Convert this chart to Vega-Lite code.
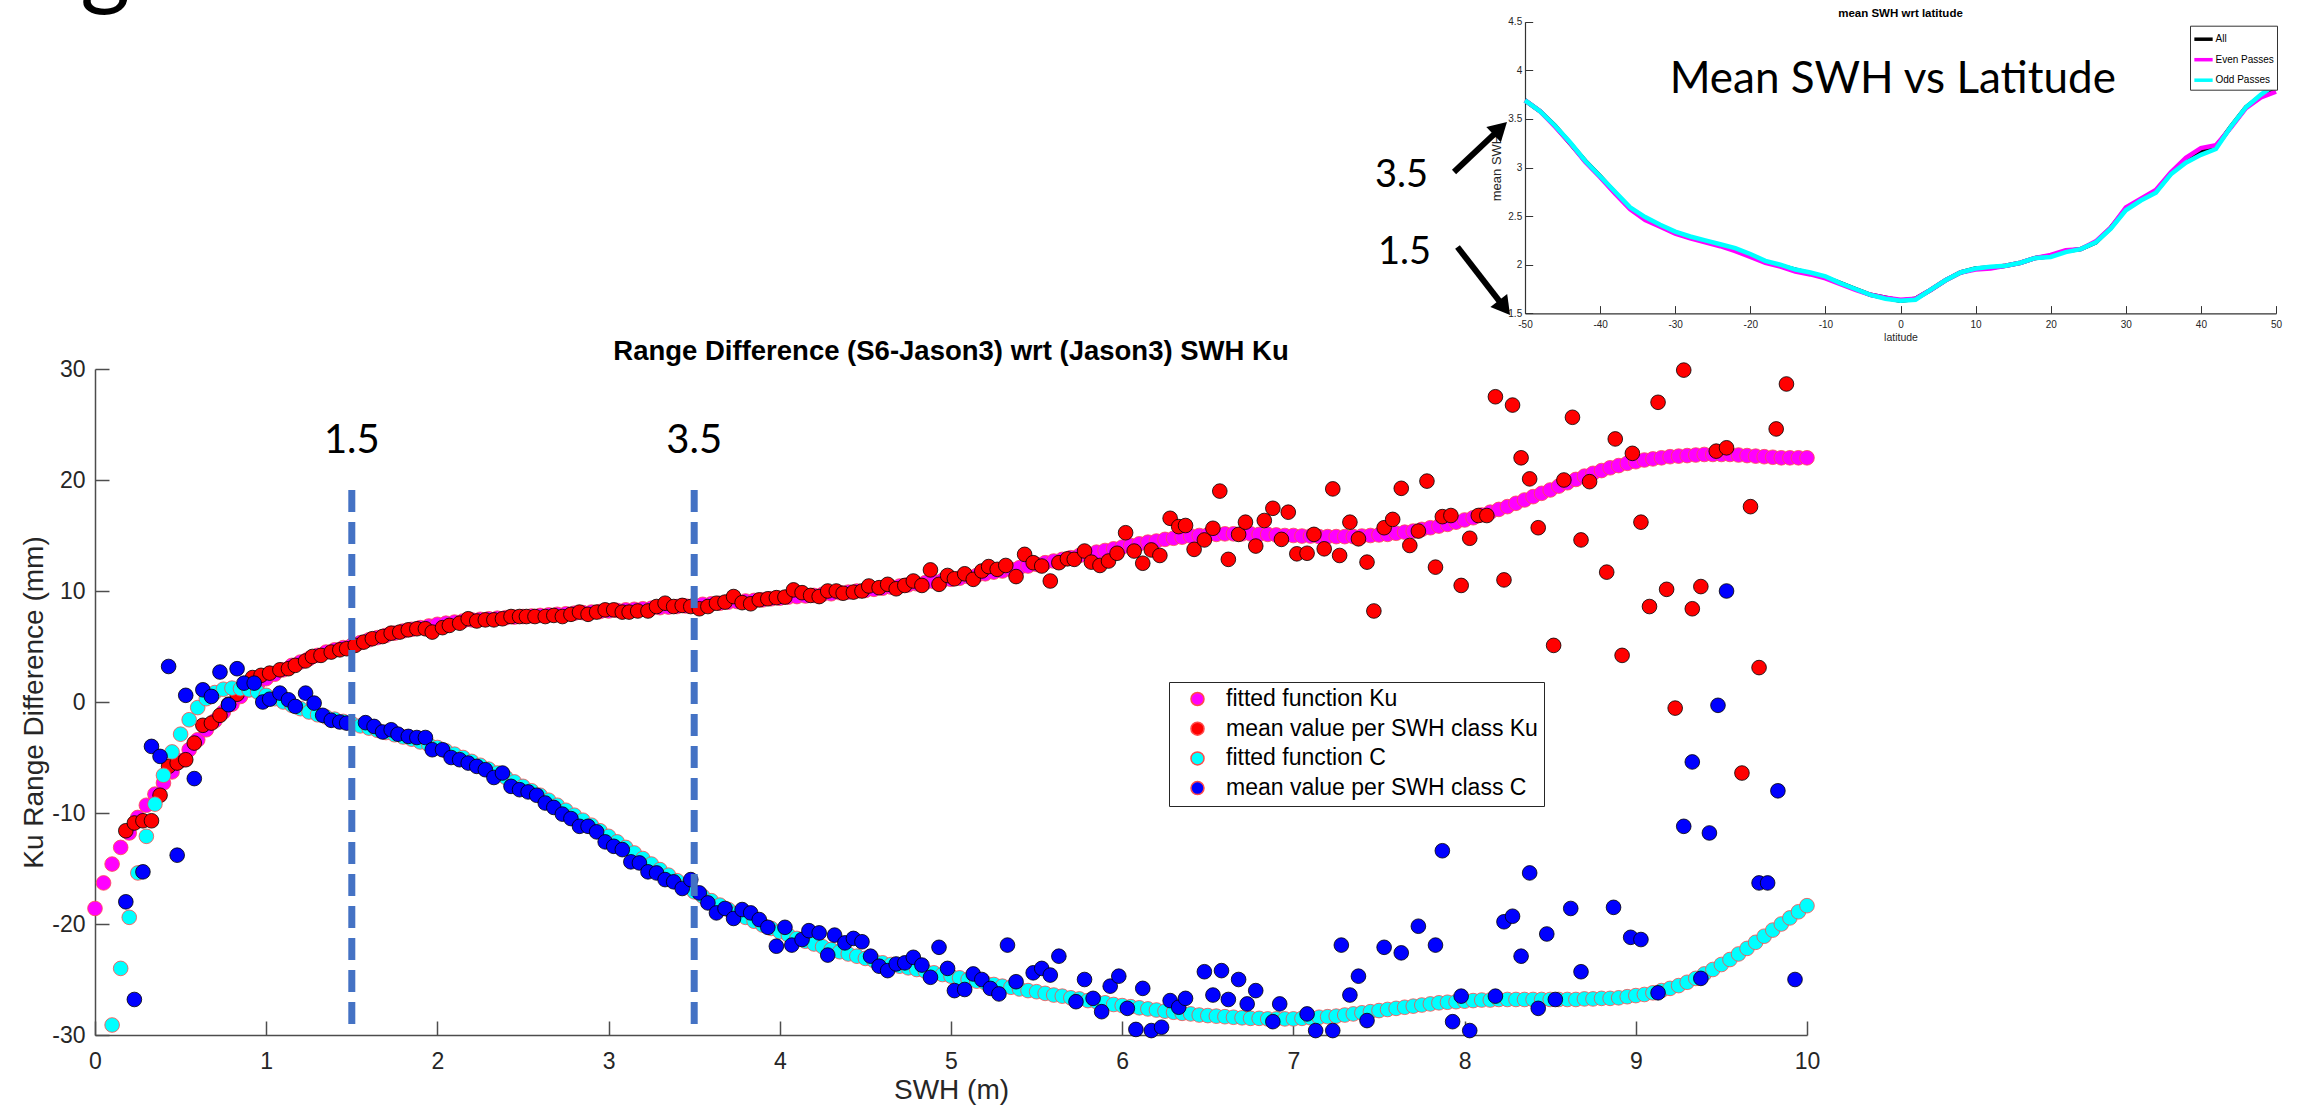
{
  "$schema": "https://vega.github.io/schema/vega-lite/v6.json",
  "width": 1712,
  "height": 666,
  "autosize": "none",
  "padding": {"left": 95, "top": 369, "right": 498, "bottom": 73},
  "background": "white",
  "config": {"view": {"stroke": null}, "font": "Liberation Sans"},
  "datasets": {
    "fku": [
      {"x":0,"y":-18.6},{"x":0.05,"y":-16.3},{"x":0.1,"y":-14.6},{"x":0.15,"y":-13.1},{"x":0.2,"y":-11.8},{"x":0.25,"y":-10.4},{"x":0.3,"y":-9.3},{"x":0.35,"y":-8.3},{"x":0.4,"y":-7.3},{"x":0.45,"y":-6.3},
      {"x":0.5,"y":-5.3},{"x":0.55,"y":-4.3},{"x":0.6,"y":-3.4},{"x":0.65,"y":-2.5},{"x":0.7,"y":-1.7},{"x":0.75,"y":-0.9},{"x":0.8,"y":-0.2},{"x":0.85,"y":0.5},{"x":0.9,"y":1.1},{"x":0.95,"y":1.6},
      {"x":1,"y":2.1},{"x":1.05,"y":2.5},{"x":1.1,"y":2.9},{"x":1.15,"y":3.3},{"x":1.2,"y":3.6},{"x":1.25,"y":3.9},{"x":1.3,"y":4.2},{"x":1.35,"y":4.5},{"x":1.4,"y":4.7},{"x":1.45,"y":4.9},
      {"x":1.5,"y":5.1},{"x":1.55,"y":5.35},{"x":1.6,"y":5.6},{"x":1.65,"y":5.8},{"x":1.7,"y":6},{"x":1.75,"y":6.2},{"x":1.8,"y":6.4},{"x":1.85,"y":6.55},{"x":1.9,"y":6.7},{"x":1.95,"y":6.85},
      {"x":2,"y":7},{"x":2.05,"y":7.1},{"x":2.1,"y":7.2},{"x":2.15,"y":7.3},{"x":2.2,"y":7.4},{"x":2.25,"y":7.45},{"x":2.3,"y":7.5},{"x":2.35,"y":7.55},{"x":2.4,"y":7.6},{"x":2.45,"y":7.65},
      {"x":2.5,"y":7.7},{"x":2.55,"y":7.75},{"x":2.6,"y":7.8},{"x":2.65,"y":7.85},{"x":2.7,"y":7.9},{"x":2.75,"y":7.95},{"x":2.8,"y":8},{"x":2.85,"y":8.05},{"x":2.9,"y":8.1},{"x":2.95,"y":8.15},
      {"x":3,"y":8.2},{"x":3.05,"y":8.25},{"x":3.1,"y":8.3},{"x":3.15,"y":8.35},{"x":3.2,"y":8.4},{"x":3.25,"y":8.45},{"x":3.3,"y":8.5},{"x":3.35,"y":8.55},{"x":3.4,"y":8.6},{"x":3.45,"y":8.65},
      {"x":3.5,"y":8.7},{"x":3.55,"y":8.8},{"x":3.6,"y":8.85},{"x":3.65,"y":8.9},{"x":3.7,"y":9},{"x":3.75,"y":9.05},{"x":3.8,"y":9.1},{"x":3.85,"y":9.15},{"x":3.9,"y":9.2},{"x":3.95,"y":9.3},
      {"x":4,"y":9.35},{"x":4.05,"y":9.45},{"x":4.1,"y":9.5},{"x":4.15,"y":9.55},{"x":4.2,"y":9.6},{"x":4.25,"y":9.7},{"x":4.3,"y":9.75},{"x":4.35,"y":9.85},{"x":4.4,"y":9.9},{"x":4.45,"y":10},
      {"x":4.5,"y":10.05},{"x":4.55,"y":10.15},{"x":4.6,"y":10.25},{"x":4.65,"y":10.35},{"x":4.7,"y":10.45},{"x":4.75,"y":10.55},{"x":4.8,"y":10.65},{"x":4.85,"y":10.75},{"x":4.9,"y":10.85},{"x":4.95,"y":10.95},
      {"x":5,"y":11.05},{"x":5.05,"y":11.15},{"x":5.1,"y":11.3},{"x":5.15,"y":11.4},{"x":5.2,"y":11.55},{"x":5.25,"y":11.7},{"x":5.3,"y":11.8},{"x":5.35,"y":11.95},{"x":5.4,"y":12.1},{"x":5.45,"y":12.25},
      {"x":5.5,"y":12.4},{"x":5.55,"y":12.55},{"x":5.6,"y":12.7},{"x":5.65,"y":12.85},{"x":5.7,"y":13},{"x":5.75,"y":13.2},{"x":5.8,"y":13.35},{"x":5.85,"y":13.5},{"x":5.9,"y":13.65},{"x":5.95,"y":13.8},
      {"x":6,"y":13.95},{"x":6.05,"y":14.1},{"x":6.1,"y":14.25},{"x":6.15,"y":14.4},{"x":6.2,"y":14.5},{"x":6.25,"y":14.65},{"x":6.3,"y":14.75},{"x":6.35,"y":14.85},{"x":6.4,"y":14.95},{"x":6.45,"y":15},
      {"x":6.5,"y":15.05},{"x":6.55,"y":15.1},{"x":6.6,"y":15.15},{"x":6.65,"y":15.15},{"x":6.7,"y":15.15},{"x":6.75,"y":15.15},{"x":6.8,"y":15.1},{"x":6.85,"y":15.1},{"x":6.9,"y":15.05},{"x":6.95,"y":15},
      {"x":7,"y":15},{"x":7.05,"y":14.95},{"x":7.1,"y":14.95},{"x":7.15,"y":14.9},{"x":7.2,"y":14.9},{"x":7.25,"y":14.9},{"x":7.3,"y":14.9},{"x":7.35,"y":14.9},{"x":7.4,"y":14.95},{"x":7.45,"y":15},
      {"x":7.5,"y":15.05},{"x":7.55,"y":15.1},{"x":7.6,"y":15.2},{"x":7.65,"y":15.3},{"x":7.7,"y":15.4},{"x":7.75,"y":15.55},{"x":7.8,"y":15.7},{"x":7.85,"y":15.85},{"x":7.9,"y":16},{"x":7.95,"y":16.2},
      {"x":8,"y":16.4},{"x":8.05,"y":16.6},{"x":8.1,"y":16.85},{"x":8.15,"y":17.1},{"x":8.2,"y":17.35},{"x":8.25,"y":17.6},{"x":8.3,"y":17.9},{"x":8.35,"y":18.2},{"x":8.4,"y":18.5},{"x":8.45,"y":18.8},
      {"x":8.5,"y":19.1},{"x":8.55,"y":19.45},{"x":8.6,"y":19.75},{"x":8.65,"y":20.05},{"x":8.7,"y":20.35},{"x":8.75,"y":20.6},{"x":8.8,"y":20.85},{"x":8.85,"y":21.1},{"x":8.9,"y":21.3},{"x":8.95,"y":21.5},
      {"x":9,"y":21.65},{"x":9.05,"y":21.8},{"x":9.1,"y":21.9},{"x":9.15,"y":22},{"x":9.2,"y":22.1},{"x":9.25,"y":22.15},{"x":9.3,"y":22.2},{"x":9.35,"y":22.25},{"x":9.4,"y":22.3},{"x":9.45,"y":22.3},
      {"x":9.5,"y":22.3},{"x":9.55,"y":22.3},{"x":9.6,"y":22.25},{"x":9.65,"y":22.2},{"x":9.7,"y":22.15},{"x":9.75,"y":22.1},{"x":9.8,"y":22.05},{"x":9.85,"y":22},{"x":9.9,"y":22},{"x":9.95,"y":22},{"x":10,"y":22}
    ],
    "mku": [
      {"x":0.18,"y":-11.6},{"x":0.23,"y":-10.9},{"x":0.28,"y":-10.7},{"x":0.33,"y":-10.7},{"x":0.38,"y":-8.4},{"x":0.43,"y":-5.8},{"x":0.48,"y":-5.5},{"x":0.53,"y":-5.2},{"x":0.58,"y":-3.7},{"x":0.63,"y":-2.1},
      {"x":0.68,"y":-1.9},{"x":0.73,"y":-1.2},{"x":0.78,"y":-0.2},{"x":0.83,"y":0.7},{"x":0.87,"y":1.5},{"x":0.92,"y":2.2},{"x":0.97,"y":2.4},{"x":1.02,"y":2.6},{"x":1.08,"y":2.9},{"x":1.13,"y":3},
      {"x":1.17,"y":3.3},{"x":1.23,"y":3.7},{"x":1.27,"y":4.1},{"x":1.32,"y":4.2},{"x":1.38,"y":4.5},{"x":1.43,"y":4.7},{"x":1.47,"y":4.8},{"x":1.52,"y":5.1},{"x":1.57,"y":5.4},{"x":1.62,"y":5.7},
      {"x":1.68,"y":5.9},{"x":1.73,"y":6.2},{"x":1.78,"y":6.3},{"x":1.83,"y":6.5},{"x":1.88,"y":6.6},{"x":1.93,"y":6.6},{"x":1.97,"y":6.3},{"x":2.03,"y":6.7},{"x":2.07,"y":6.9},{"x":2.13,"y":7.1},
      {"x":2.18,"y":7.5},{"x":2.23,"y":7.3},{"x":2.28,"y":7.4},{"x":2.33,"y":7.4},{"x":2.38,"y":7.5},{"x":2.43,"y":7.7},{"x":2.48,"y":7.7},{"x":2.52,"y":7.7},{"x":2.57,"y":7.7},{"x":2.63,"y":7.7},
      {"x":2.68,"y":7.8},{"x":2.73,"y":7.7},{"x":2.78,"y":7.9},{"x":2.83,"y":8.1},{"x":2.88,"y":7.9},{"x":2.93,"y":8.1},{"x":2.98,"y":8.3},{"x":3.03,"y":8.3},{"x":3.08,"y":8.1},{"x":3.12,"y":8.1},
      {"x":3.17,"y":8.2},{"x":3.23,"y":8.2},{"x":3.28,"y":8.6},{"x":3.33,"y":8.9},{"x":3.38,"y":8.6},{"x":3.43,"y":8.7},{"x":3.48,"y":8.6},{"x":3.53,"y":8.4},{"x":3.58,"y":8.6},{"x":3.63,"y":8.9},
      {"x":3.68,"y":9},{"x":3.73,"y":9.5},{"x":3.78,"y":8.95},{"x":3.83,"y":8.85},{"x":3.88,"y":9.2},{"x":3.93,"y":9.3},{"x":3.98,"y":9.4},{"x":4.03,"y":9.45},{"x":4.08,"y":10.1},{"x":4.13,"y":9.85},
      {"x":4.18,"y":9.6},{"x":4.23,"y":9.5},{"x":4.28,"y":10},{"x":4.33,"y":10},{"x":4.37,"y":9.8},{"x":4.43,"y":9.9},{"x":4.48,"y":10},{"x":4.52,"y":10.45},{"x":4.58,"y":10.3},{"x":4.63,"y":10.6},
      {"x":4.68,"y":10.2},{"x":4.73,"y":10.5},{"x":4.78,"y":10.9},{"x":4.83,"y":10.5},{"x":4.88,"y":11.9},{"x":4.93,"y":10.6},{"x":4.98,"y":11.4},{"x":5.02,"y":11.1},{"x":5.08,"y":11.55},{"x":5.13,"y":11.05},
      {"x":5.18,"y":11.8},{"x":5.22,"y":12.2},{"x":5.27,"y":11.95},{"x":5.32,"y":12.3},{"x":5.38,"y":11.3},{"x":5.43,"y":13.3},{"x":5.48,"y":12.55},{"x":5.53,"y":12.25},{"x":5.58,"y":10.9},{"x":5.63,"y":12.55},
      {"x":5.68,"y":12.9},{"x":5.72,"y":12.85},{"x":5.78,"y":13.6},{"x":5.82,"y":12.6},{"x":5.87,"y":12.3},{"x":5.92,"y":12.7},{"x":5.97,"y":13.4},{"x":6.02,"y":15.25},{"x":6.07,"y":13.6},{"x":6.12,"y":12.5},
      {"x":6.17,"y":13.7},{"x":6.22,"y":13.2},{"x":6.28,"y":16.55},{"x":6.33,"y":15.8},{"x":6.37,"y":15.9},{"x":6.42,"y":13.75},{"x":6.48,"y":14.6},{"x":6.53,"y":15.65},{"x":6.57,"y":19},{"x":6.62,"y":12.85},
      {"x":6.68,"y":15.1},{"x":6.72,"y":16.2},{"x":6.78,"y":14.05},{"x":6.83,"y":16.35},{"x":6.88,"y":17.45},{"x":6.93,"y":14.65},{"x":6.97,"y":17.1},{"x":7.02,"y":13.35},{"x":7.08,"y":13.4},{"x":7.12,"y":15.1},
      {"x":7.18,"y":13.8},{"x":7.23,"y":19.2},{"x":7.27,"y":13.2},{"x":7.33,"y":16.2},{"x":7.38,"y":14.7},{"x":7.43,"y":12.6},{"x":7.47,"y":8.2},{"x":7.53,"y":15.7},{"x":7.58,"y":16.45},{"x":7.63,"y":19.25},
      {"x":7.68,"y":14.1},{"x":7.73,"y":15.4},{"x":7.78,"y":19.9},{"x":7.83,"y":12.15},{"x":7.87,"y":16.7},{"x":7.92,"y":16.8},{"x":7.98,"y":10.5},{"x":8.03,"y":14.75},{"x":8.08,"y":16.8},{"x":8.13,"y":16.8},
      {"x":8.18,"y":27.5},{"x":8.23,"y":11},{"x":8.28,"y":26.75},{"x":8.33,"y":22},{"x":8.38,"y":20.1},{"x":8.43,"y":15.7},{"x":8.52,"y":5.1},{"x":8.58,"y":20},{"x":8.63,"y":25.65},{"x":8.68,"y":14.6},
      {"x":8.73,"y":19.85},{"x":8.83,"y":11.7},{"x":8.88,"y":23.7},{"x":8.92,"y":4.2},{"x":8.98,"y":22.4},{"x":9.03,"y":16.2},{"x":9.08,"y":8.6},{"x":9.13,"y":27},{"x":9.18,"y":10.15},{"x":9.23,"y":-0.55},
      {"x":9.28,"y":29.9},{"x":9.33,"y":8.4},{"x":9.38,"y":10.4},{"x":9.47,"y":22.6},{"x":9.53,"y":22.9},{"x":9.62,"y":-6.4},{"x":9.67,"y":17.6},{"x":9.72,"y":3.1},{"x":9.82,"y":24.6},{"x":9.88,"y":28.65}
    ],
    "fc": [
      {"x":0.1,"y":-29.1},{"x":0.15,"y":-24},{"x":0.2,"y":-19.4},{"x":0.25,"y":-15.4},{"x":0.3,"y":-12.1},{"x":0.35,"y":-9.2},{"x":0.4,"y":-6.6},{"x":0.45,"y":-4.5},
      {"x":0.5,"y":-2.9},{"x":0.55,"y":-1.6},{"x":0.6,"y":-0.5},{"x":0.65,"y":0.3},{"x":0.7,"y":0.85},{"x":0.75,"y":1.15},{"x":0.8,"y":1.25},{"x":0.85,"y":1.2},{"x":0.9,"y":1.1},{"x":0.95,"y":0.9},
      {"x":1,"y":0.6},{"x":1.05,"y":0.3},{"x":1.1,"y":0},{"x":1.15,"y":-0.3},{"x":1.2,"y":-0.6},{"x":1.25,"y":-0.9},{"x":1.3,"y":-1.15},{"x":1.35,"y":-1.35},{"x":1.4,"y":-1.55},{"x":1.45,"y":-1.75},
      {"x":1.5,"y":-1.95},{"x":1.55,"y":-2.15},{"x":1.6,"y":-2.35},{"x":1.65,"y":-2.55},{"x":1.7,"y":-2.75},{"x":1.75,"y":-2.95},{"x":1.8,"y":-3.15},{"x":1.85,"y":-3.35},{"x":1.9,"y":-3.6},{"x":1.95,"y":-3.85},
      {"x":2,"y":-4.1},{"x":2.05,"y":-4.4},{"x":2.1,"y":-4.7},{"x":2.15,"y":-5},{"x":2.2,"y":-5.35},{"x":2.25,"y":-5.7},{"x":2.3,"y":-6.05},{"x":2.35,"y":-6.4},{"x":2.4,"y":-6.8},{"x":2.45,"y":-7.2},
      {"x":2.5,"y":-7.6},{"x":2.55,"y":-8},{"x":2.6,"y":-8.4},{"x":2.65,"y":-8.85},{"x":2.7,"y":-9.3},{"x":2.75,"y":-9.75},{"x":2.8,"y":-10.2},{"x":2.85,"y":-10.65},{"x":2.9,"y":-11.1},{"x":2.95,"y":-11.6},
      {"x":3,"y":-12.1},{"x":3.05,"y":-12.6},{"x":3.1,"y":-13.1},{"x":3.15,"y":-13.6},{"x":3.2,"y":-14.1},{"x":3.25,"y":-14.6},{"x":3.3,"y":-15.1},{"x":3.35,"y":-15.6},{"x":3.4,"y":-16.1},{"x":3.45,"y":-16.6},
      {"x":3.5,"y":-17.1},{"x":3.55,"y":-17.5},{"x":3.6,"y":-17.9},{"x":3.65,"y":-18.3},{"x":3.7,"y":-18.7},{"x":3.75,"y":-19.05},{"x":3.8,"y":-19.4},{"x":3.85,"y":-19.75},{"x":3.9,"y":-20.1},{"x":3.95,"y":-20.4},
      {"x":4,"y":-20.7},{"x":4.05,"y":-21},{"x":4.1,"y":-21.3},{"x":4.15,"y":-21.55},{"x":4.2,"y":-21.8},{"x":4.25,"y":-22.05},{"x":4.3,"y":-22.3},{"x":4.35,"y":-22.5},{"x":4.4,"y":-22.7},{"x":4.45,"y":-22.9},
      {"x":4.5,"y":-23.1},{"x":4.55,"y":-23.3},{"x":4.6,"y":-23.5},{"x":4.65,"y":-23.65},{"x":4.7,"y":-23.8},{"x":4.75,"y":-23.95},{"x":4.8,"y":-24.1},{"x":4.85,"y":-24.25},{"x":4.9,"y":-24.4},{"x":4.95,"y":-24.55},
      {"x":5,"y":-24.7},{"x":5.05,"y":-24.85},{"x":5.1,"y":-25},{"x":5.15,"y":-25.15},{"x":5.2,"y":-25.3},{"x":5.25,"y":-25.45},{"x":5.3,"y":-25.6},{"x":5.35,"y":-25.7},{"x":5.4,"y":-25.85},{"x":5.45,"y":-26},
      {"x":5.5,"y":-26.1},{"x":5.55,"y":-26.25},{"x":5.6,"y":-26.4},{"x":5.65,"y":-26.5},{"x":5.7,"y":-26.65},{"x":5.75,"y":-26.75},{"x":5.8,"y":-26.9},{"x":5.85,"y":-27},{"x":5.9,"y":-27.1},{"x":5.95,"y":-27.25},
      {"x":6,"y":-27.35},{"x":6.05,"y":-27.45},{"x":6.1,"y":-27.55},{"x":6.15,"y":-27.65},{"x":6.2,"y":-27.75},{"x":6.25,"y":-27.85},{"x":6.3,"y":-27.95},{"x":6.35,"y":-28.05},{"x":6.4,"y":-28.1},{"x":6.45,"y":-28.2},
      {"x":6.5,"y":-28.25},{"x":6.55,"y":-28.3},{"x":6.6,"y":-28.35},{"x":6.65,"y":-28.4},{"x":6.7,"y":-28.45},{"x":6.75,"y":-28.5},{"x":6.8,"y":-28.5},{"x":6.85,"y":-28.55},{"x":6.9,"y":-28.55},{"x":6.95,"y":-28.55},
      {"x":7,"y":-28.55},{"x":7.05,"y":-28.5},{"x":7.1,"y":-28.45},{"x":7.15,"y":-28.4},{"x":7.2,"y":-28.35},{"x":7.25,"y":-28.3},{"x":7.3,"y":-28.2},{"x":7.35,"y":-28.1},{"x":7.4,"y":-28},{"x":7.45,"y":-27.9},
      {"x":7.5,"y":-27.8},{"x":7.55,"y":-27.7},{"x":7.6,"y":-27.6},{"x":7.65,"y":-27.5},{"x":7.7,"y":-27.4},{"x":7.75,"y":-27.3},{"x":7.8,"y":-27.2},{"x":7.85,"y":-27.1},{"x":7.9,"y":-27.05},{"x":7.95,"y":-27},
      {"x":8,"y":-26.95},{"x":8.05,"y":-26.9},{"x":8.1,"y":-26.85},{"x":8.15,"y":-26.85},{"x":8.2,"y":-26.8},{"x":8.25,"y":-26.8},{"x":8.3,"y":-26.8},{"x":8.35,"y":-26.8},{"x":8.4,"y":-26.8},{"x":8.45,"y":-26.8},
      {"x":8.5,"y":-26.8},{"x":8.55,"y":-26.8},{"x":8.6,"y":-26.8},{"x":8.65,"y":-26.8},{"x":8.7,"y":-26.75},{"x":8.75,"y":-26.75},{"x":8.8,"y":-26.7},{"x":8.85,"y":-26.7},{"x":8.9,"y":-26.65},{"x":8.95,"y":-26.55},
      {"x":9,"y":-26.45},{"x":9.05,"y":-26.35},{"x":9.1,"y":-26.2},{"x":9.15,"y":-26},{"x":9.2,"y":-25.8},{"x":9.25,"y":-25.55},{"x":9.3,"y":-25.25},{"x":9.35,"y":-24.9},{"x":9.4,"y":-24.5},{"x":9.45,"y":-24.1},
      {"x":9.5,"y":-23.65},{"x":9.55,"y":-23.2},{"x":9.6,"y":-22.7},{"x":9.65,"y":-22.2},{"x":9.7,"y":-21.65},{"x":9.75,"y":-21.1},{"x":9.8,"y":-20.55},{"x":9.85,"y":-20},{"x":9.9,"y":-19.45},{"x":9.95,"y":-18.9},{"x":10,"y":-18.35}
    ],
    "mc": [
      {"x":0.18,"y":-18},{"x":0.23,"y":-26.8},{"x":0.28,"y":-15.3},{"x":0.33,"y":-4},{"x":0.38,"y":-4.9},{"x":0.43,"y":3.2},{"x":0.48,"y":-13.8},{"x":0.53,"y":0.6},{"x":0.58,"y":-6.9},{"x":0.63,"y":1.1},
      {"x":0.68,"y":0.5},{"x":0.73,"y":2.7},{"x":0.78,"y":-0.25},{"x":0.83,"y":3},{"x":0.87,"y":1.7},{"x":0.93,"y":1.7},{"x":0.98,"y":0},{"x":1.02,"y":0.25},{"x":1.08,"y":0.8},{"x":1.13,"y":0.2},
      {"x":1.17,"y":-0.4},{"x":1.23,"y":0.8},{"x":1.28,"y":-0.1},{"x":1.33,"y":-1.2},{"x":1.38,"y":-1.65},{"x":1.43,"y":-1.8},{"x":1.47,"y":-1.9},{"x":1.58,"y":-1.86},{"x":1.63,"y":-2.2},{"x":1.68,"y":-2.7},
      {"x":1.73,"y":-2.5},{"x":1.77,"y":-2.9},{"x":1.83,"y":-3.1},{"x":1.88,"y":-3.2},{"x":1.93,"y":-3.2},{"x":1.97,"y":-4.3},{"x":2.03,"y":-4.3},{"x":2.08,"y":-5},{"x":2.13,"y":-5.2},{"x":2.18,"y":-5.5},
      {"x":2.23,"y":-5.8},{"x":2.28,"y":-6.1},{"x":2.33,"y":-6.8},{"x":2.38,"y":-6.4},{"x":2.43,"y":-7.6},{"x":2.48,"y":-7.9},{"x":2.53,"y":-8.1},{"x":2.58,"y":-8.4},{"x":2.63,"y":-9.1},{"x":2.68,"y":-9.5},
      {"x":2.73,"y":-10.1},{"x":2.78,"y":-10.5},{"x":2.83,"y":-11.2},{"x":2.88,"y":-11.2},{"x":2.93,"y":-11.7},{"x":2.98,"y":-12.6},{"x":3.03,"y":-13},{"x":3.08,"y":-13.3},{"x":3.13,"y":-14.4},{"x":3.18,"y":-14.5},
      {"x":3.23,"y":-15.3},{"x":3.28,"y":-15.4},{"x":3.33,"y":-16},{"x":3.38,"y":-16.2},{"x":3.43,"y":-16.8},{"x":3.48,"y":-16},{"x":3.53,"y":-17.2},{"x":3.58,"y":-18.1},{"x":3.63,"y":-19},{"x":3.68,"y":-18.6},
      {"x":3.73,"y":-19.5},{"x":3.78,"y":-18.7},{"x":3.83,"y":-19},{"x":3.88,"y":-19.6},{"x":3.93,"y":-20.3},{"x":3.98,"y":-22},{"x":4.03,"y":-20.3},{"x":4.07,"y":-21.9},{"x":4.13,"y":-21.4},{"x":4.17,"y":-20.6},
      {"x":4.23,"y":-20.8},{"x":4.28,"y":-22.8},{"x":4.32,"y":-21},{"x":4.38,"y":-21.7},{"x":4.43,"y":-21.3},{"x":4.48,"y":-21.6},{"x":4.53,"y":-22.9},{"x":4.58,"y":-23.8},{"x":4.63,"y":-24.2},{"x":4.68,"y":-23.6},
      {"x":4.73,"y":-23.5},{"x":4.78,"y":-23},{"x":4.83,"y":-23.7},{"x":4.88,"y":-24.8},{"x":4.93,"y":-22.1},{"x":4.98,"y":-24},{"x":5.02,"y":-26},{"x":5.08,"y":-25.9},{"x":5.13,"y":-24.5},{"x":5.18,"y":-25},
      {"x":5.23,"y":-25.8},{"x":5.28,"y":-26.3},{"x":5.33,"y":-21.9},{"x":5.38,"y":-25.2},{"x":5.48,"y":-24.4},{"x":5.53,"y":-24},{"x":5.58,"y":-24.6},{"x":5.63,"y":-22.9},{"x":5.73,"y":-27},{"x":5.78,"y":-25},
      {"x":5.83,"y":-26.7},{"x":5.88,"y":-27.9},{"x":5.93,"y":-25.6},{"x":5.98,"y":-24.7},{"x":6.03,"y":-27.6},{"x":6.08,"y":-29.5},{"x":6.12,"y":-25.8},{"x":6.17,"y":-29.6},{"x":6.23,"y":-29.3},{"x":6.28,"y":-26.9},
      {"x":6.33,"y":-27.5},{"x":6.37,"y":-26.7},{"x":6.48,"y":-24.3},{"x":6.53,"y":-26.4},{"x":6.58,"y":-24.2},{"x":6.62,"y":-26.8},{"x":6.68,"y":-25},{"x":6.73,"y":-27.2},{"x":6.78,"y":-26},{"x":6.88,"y":-28.8},
      {"x":6.92,"y":-27.2},{"x":7.08,"y":-28.1},{"x":7.13,"y":-29.6},{"x":7.23,"y":-29.6},{"x":7.28,"y":-21.9},{"x":7.33,"y":-26.4},{"x":7.38,"y":-24.7},{"x":7.43,"y":-28.7},{"x":7.53,"y":-22.1},{"x":7.63,"y":-22.6},
      {"x":7.73,"y":-20.2},{"x":7.83,"y":-21.9},{"x":7.87,"y":-13.4},{"x":7.93,"y":-28.8},{"x":7.98,"y":-26.5},{"x":8.03,"y":-29.6},{"x":8.18,"y":-26.5},{"x":8.23,"y":-19.8},{"x":8.28,"y":-19.3},{"x":8.33,"y":-22.9},
      {"x":8.38,"y":-15.4},{"x":8.43,"y":-27.6},{"x":8.48,"y":-20.9},{"x":8.53,"y":-26.8},{"x":8.62,"y":-18.6},{"x":8.68,"y":-24.3},{"x":8.87,"y":-18.5},{"x":8.97,"y":-21.2},{"x":9.03,"y":-21.4},{"x":9.13,"y":-26.2},
      {"x":9.28,"y":-11.2},{"x":9.33,"y":-5.4},{"x":9.38,"y":-24.9},{"x":9.43,"y":-11.8},{"x":9.48,"y":-0.3},{"x":9.53,"y":10},{"x":9.72,"y":-16.3},{"x":9.77,"y":-16.3},{"x":9.83,"y":-8},{"x":9.93,"y":-25}
    ],
    "lat": [
      {"lat":-50,"all":3.69,"even":3.69,"odd":3.69},{"lat":-48,"all":3.58,"even":3.58,"odd":3.58},{"lat":-46,"all":3.43,"even":3.42,"odd":3.43},{"lat":-44,"all":3.25,"even":3.25,"odd":3.26},
      {"lat":-42,"all":3.07,"even":3.06,"odd":3.07},{"lat":-40,"all":2.91,"even":2.9,"odd":2.91},{"lat":-38,"all":2.74,"even":2.73,"odd":2.75},{"lat":-36,"all":2.58,"even":2.57,"odd":2.59},
      {"lat":-34,"all":2.48,"even":2.46,"odd":2.49},{"lat":-32,"all":2.4,"even":2.39,"odd":2.41},{"lat":-30,"all":2.33,"even":2.32,"odd":2.34},{"lat":-28,"all":2.28,"even":2.27,"odd":2.29},
      {"lat":-26,"all":2.24,"even":2.23,"odd":2.25},{"lat":-24,"all":2.2,"even":2.19,"odd":2.21},{"lat":-22,"all":2.16,"even":2.14,"odd":2.17},{"lat":-20,"all":2.1,"even":2.08,"odd":2.11},
      {"lat":-18,"all":2.03,"even":2.02,"odd":2.04},{"lat":-16,"all":1.99,"even":1.98,"odd":2},{"lat":-14,"all":1.95,"even":1.93,"odd":1.95},{"lat":-12,"all":1.91,"even":1.9,"odd":1.92},
      {"lat":-10,"all":1.87,"even":1.86,"odd":1.88},{"lat":-8,"all":1.81,"even":1.8,"odd":1.81},{"lat":-6,"all":1.75,"even":1.74,"odd":1.75},{"lat":-4,"all":1.69,"even":1.69,"odd":1.69},
      {"lat":-2,"all":1.66,"even":1.66,"odd":1.65},{"lat":0,"all":1.63,"even":1.64,"odd":1.63},{"lat":2,"all":1.65,"even":1.65,"odd":1.64},{"lat":4,"all":1.74,"even":1.74,"odd":1.74},
      {"lat":6,"all":1.84,"even":1.84,"odd":1.84},{"lat":8,"all":1.92,"even":1.92,"odd":1.92},{"lat":10,"all":1.96,"even":1.95,"odd":1.96},{"lat":12,"all":1.97,"even":1.96,"odd":1.98},
      {"lat":14,"all":1.99,"even":1.99,"odd":1.99},{"lat":16,"all":2.02,"even":2.02,"odd":2.02},{"lat":18,"all":2.07,"even":2.07,"odd":2.07},{"lat":20,"all":2.09,"even":2.1,"odd":2.08},
      {"lat":22,"all":2.14,"even":2.15,"odd":2.13},{"lat":24,"all":2.16,"even":2.16,"odd":2.16},{"lat":26,"all":2.23,"even":2.24,"odd":2.23},{"lat":28,"all":2.38,"even":2.38,"odd":2.37},
      {"lat":30,"all":2.57,"even":2.59,"odd":2.56},{"lat":32,"all":2.67,"even":2.68,"odd":2.66},{"lat":34,"all":2.75,"even":2.77,"odd":2.74},{"lat":36,"all":2.94,"even":2.95,"odd":2.93},
      {"lat":38,"all":3.07,"even":3.1,"odd":3.05},{"lat":40,"all":3.16,"even":3.2,"odd":3.13},{"lat":42,"all":3.21,"even":3.23,"odd":3.19},{"lat":44,"all":3.42,"even":3.41,"odd":3.42},
      {"lat":46,"all":3.62,"even":3.61,"odd":3.62},{"lat":48,"all":3.74,"even":3.72,"odd":3.75},{"lat":50,"all":3.83,"even":3.78,"odd":3.86}
    ]
  },
  "layer": [
    {
      "layer": [
        {
          "data": {"name": "fku"},
          "mark": {"type": "point", "shape": "circle", "filled": true, "size": 215, "opacity": 1, "stroke": "#ff4a4a", "strokeWidth": 0.8},
          "encoding": {
            "x": {"field": "x", "type": "quantitative", "scale": {"domain": [0, 10], "nice": false, "zero": false},
              "axis": {"values": [0,1,2,3,4,5,6,7,8,9,10], "title": "SWH (m)", "titleFont": "Liberation Sans", "titleFontSize": 28, "titleFontWeight": "normal", "titleColor": "#262626", "titlePadding": 3,
                "labelFont": "Liberation Sans", "labelFontSize": 23, "labelColor": "#262626", "labelPadding": 29, "labelFlush": false, "labelOverlap": false, "labelExpr": "'' + datum.value",
                "tickSize": -14, "tickWidth": 1.5, "tickColor": "#4d4d4d", "domainColor": "#4d4d4d", "domainWidth": 1.5, "grid": false}},
            "y": {"field": "y", "type": "quantitative", "scale": {"domain": [-30, 30], "nice": false, "zero": false},
              "axis": {"values": [-30,-20,-10,0,10,20,30], "title": "Ku Range Difference (mm)", "titleFont": "Liberation Sans", "titleFontSize": 28, "titleFontWeight": "normal", "titleColor": "#262626", "titlePadding": 3,
                "labelFont": "Liberation Sans", "labelFontSize": 23, "labelColor": "#262626", "labelPadding": 24, "labelFlush": false, "labelOverlap": false, "labelExpr": "'' + datum.value",
                "tickSize": -14, "tickWidth": 1.5, "tickColor": "#4d4d4d", "domainColor": "#4d4d4d", "domainWidth": 1.5, "grid": false}},
            "color": {"datum": "fitted function Ku", "type": "nominal",
              "scale": {"domain": ["fitted function Ku", "mean value per SWH class Ku", "fitted function C", "mean value per SWH class C"], "range": ["#ff00ff", "#ff0000", "#00ffff", "#0000ff"]},
              "legend": {"orient": "none", "legendX": 1074, "legendY": 313, "title": null, "labelFont": "Liberation Sans", "labelFontSize": 23, "labelColor": "#000000", "labelLimit": 0,
                "symbolType": "circle", "symbolSize": 170, "symbolOpacity": 1, "padding": 5.5, "symbolOffset": 11.5, "labelOffset": 17, "rowPadding": 5.7,
                "strokeColor": "#262626", "fillColor": "#ffffff",
                "encode": {"symbols": {"update": {"stroke": {"signal": "indexof(datum.value, 'fitted') === 0 ? '#ff4a4a' : '#000000'"}, "strokeWidth": {"value": 0.8}}}}}}
          }
        },
        {
          "data": {"name": "mku"},
          "mark": {"type": "point", "shape": "circle", "filled": true, "size": 215, "opacity": 1, "stroke": "#000000", "strokeWidth": 0.8},
          "encoding": {
            "x": {"field": "x", "type": "quantitative", "scale": {"domain": [0, 10], "nice": false, "zero": false}},
            "y": {"field": "y", "type": "quantitative", "scale": {"domain": [-30, 30], "nice": false, "zero": false}},
            "color": {"datum": "mean value per SWH class Ku", "type": "nominal"}
          }
        },
        {
          "data": {"name": "fc"},
          "mark": {"type": "point", "shape": "circle", "filled": true, "size": 215, "opacity": 1, "stroke": "#ff4a4a", "strokeWidth": 0.8},
          "encoding": {
            "x": {"field": "x", "type": "quantitative", "scale": {"domain": [0, 10], "nice": false, "zero": false}},
            "y": {"field": "y", "type": "quantitative", "scale": {"domain": [-30, 30], "nice": false, "zero": false}},
            "color": {"datum": "fitted function C", "type": "nominal"}
          }
        },
        {
          "data": {"name": "mc"},
          "mark": {"type": "point", "shape": "circle", "filled": true, "size": 215, "opacity": 1, "stroke": "#000000", "strokeWidth": 0.8},
          "encoding": {
            "x": {"field": "x", "type": "quantitative", "scale": {"domain": [0, 10], "nice": false, "zero": false}},
            "y": {"field": "y", "type": "quantitative", "scale": {"domain": [-30, 30], "nice": false, "zero": false}},
            "color": {"datum": "mean value per SWH class C", "type": "nominal"}
          }
        },
        {
          "data": {"values": [{"x": 1.5, "y": 19.1, "y2": -29.1}, {"x": 3.5, "y": 19.1, "y2": -29.1}]},
          "mark": {"type": "rule", "color": "#4472c4", "strokeWidth": 7, "strokeDash": [22, 10]},
          "encoding": {
            "x": {"field": "x", "type": "quantitative", "scale": {"domain": [0, 10], "nice": false, "zero": false}},
            "y": {"field": "y", "type": "quantitative", "scale": {"domain": [-30, 30], "nice": false, "zero": false}},
            "y2": {"field": "y2"}
          }
        },
        {
          "data": {"values": [{"x": 1.5, "y": 22.43, "t": "1.5"}, {"x": 3.5, "y": 22.43, "t": "3.5"}]},
          "mark": {"type": "text", "font": "Lato", "fontSize": 40, "color": "#000000", "align": "center", "baseline": "alphabetic"},
          "encoding": {
            "x": {"field": "x", "type": "quantitative", "scale": {"domain": [0, 10], "nice": false, "zero": false}},
            "y": {"field": "y", "type": "quantitative", "scale": {"domain": [-30, 30], "nice": false, "zero": false}},
            "text": {"field": "t"}
          }
        },
        {
          "data": {"values": [{"x": 5, "y": 30.81, "t": "Range Difference (S6-Jason3) wrt (Jason3) SWH Ku"}]},
          "mark": {"type": "text", "font": "Liberation Sans", "fontSize": 27.5, "fontWeight": "bold", "color": "#000000", "align": "center", "baseline": "alphabetic"},
          "encoding": {
            "x": {"field": "x", "type": "quantitative", "scale": {"domain": [0, 10], "nice": false, "zero": false}},
            "y": {"field": "y", "type": "quantitative", "scale": {"domain": [-30, 30], "nice": false, "zero": false}},
            "text": {"field": "t"}
          }
        },
        {
          "data": {"values": [{"x": 0.06, "y": 63.5, "t": "g"}]},
          "mark": {"type": "text", "font": "Lato", "fontSize": 96, "color": "#000000", "align": "center", "baseline": "alphabetic"},
          "encoding": {
            "x": {"field": "x", "type": "quantitative", "scale": {"domain": [0, 10], "nice": false, "zero": false}},
            "y": {"field": "y", "type": "quantitative", "scale": {"domain": [-30, 30], "nice": false, "zero": false}},
            "text": {"field": "t"}
          }
        }
      ]
    },
    {
      "layer": [
        {
          "data": {"name": "lat"},
          "mark": {"type": "line", "strokeWidth": 4.5},
          "encoding": {
            "x": {"field": "lat", "type": "quantitative", "scale": {"domain": [-50, 50], "range": [1430, 2181], "nice": false, "zero": false},
              "axis": {"orient": "bottom", "offset": -721.7, "values": [-50,-40,-30,-20,-10,0,10,20,30,40,50], "title": "latitude", "titleFont": "Liberation Sans", "titleFontSize": 10.5, "titleFontWeight": "normal", "titleColor": "#262626", "titlePadding": 3,
                "labelFont": "Liberation Sans", "labelFontSize": 10, "labelColor": "#262626", "labelPadding": 14, "labelFlush": false, "labelOverlap": false, "labelExpr": "'' + datum.value",
                "tickSize": -7.7, "tickWidth": 1, "tickColor": "#333333", "domainColor": "#333333", "domainWidth": 1.2, "grid": false}},
            "y": {"field": "all", "type": "quantitative", "scale": {"domain": [1.5, 4.5], "range": [-55.7, -347.3], "nice": false, "zero": false},
              "axis": {"orient": "left", "offset": -1430, "values": [1.5,2,2.5,3,3.5,4,4.5], "title": "mean SWH", "titleFont": "Liberation Sans", "titleFontSize": 13, "titleFontWeight": "normal", "titleColor": "#262626", "titlePadding": 4,
                "labelFont": "Liberation Sans", "labelFontSize": 10, "labelColor": "#262626", "labelPadding": 11, "labelFlush": false, "labelOverlap": false, "labelExpr": "'' + datum.value",
                "tickSize": -7.7, "tickWidth": 1, "tickColor": "#333333", "domainColor": "#333333", "domainWidth": 1.2, "grid": false}},
            "stroke": {"datum": "All", "type": "nominal",
              "scale": {"domain": ["All", "Even Passes", "Odd Passes"], "range": ["#000000", "#ff00ff", "#00ffff"]},
              "legend": {"orient": "none", "legendX": 2095, "legendY": -343.3, "title": null, "labelFont": "Liberation Sans", "labelFontSize": 10, "labelColor": "#000000", "labelLimit": 0,
                "symbolType": "stroke", "symbolSize": 335, "symbolStrokeWidth": 3.5, "padding": 2.5, "symbolOffset": 0, "labelOffset": 1, "rowPadding": 2.5,
                "strokeColor": "#333333", "fillColor": "#ffffff"}}
          }
        },
        {
          "data": {"name": "lat"},
          "mark": {"type": "line", "strokeWidth": 4.5},
          "encoding": {
            "x": {"field": "lat", "type": "quantitative", "scale": {"domain": [-50, 50], "range": [1430, 2181], "nice": false, "zero": false}},
            "y": {"field": "even", "type": "quantitative", "scale": {"domain": [1.5, 4.5], "range": [-55.7, -347.3], "nice": false, "zero": false}},
            "stroke": {"datum": "Even Passes", "type": "nominal"}
          }
        },
        {
          "data": {"name": "lat"},
          "mark": {"type": "line", "strokeWidth": 4.5},
          "encoding": {
            "x": {"field": "lat", "type": "quantitative", "scale": {"domain": [-50, 50], "range": [1430, 2181], "nice": false, "zero": false}},
            "y": {"field": "odd", "type": "quantitative", "scale": {"domain": [1.5, 4.5], "range": [-55.7, -347.3], "nice": false, "zero": false}},
            "stroke": {"datum": "Odd Passes", "type": "nominal"}
          }
        },
        {
          "data": {"values": [{"lat": 0, "all": 4.551, "t": "mean SWH wrt latitude"}]},
          "mark": {"type": "text", "font": "Liberation Sans", "fontSize": 11.5, "fontWeight": "bold", "color": "#000000", "align": "center", "baseline": "alphabetic"},
          "encoding": {
            "x": {"field": "lat", "type": "quantitative", "scale": {"domain": [-50, 50], "range": [1430, 2181], "nice": false, "zero": false}},
            "y": {"field": "all", "type": "quantitative", "scale": {"domain": [1.5, 4.5], "range": [-55.7, -347.3], "nice": false, "zero": false}},
            "text": {"field": "t"}
          }
        },
        {
          "data": {"values": [{"lat": -1.03, "all": 3.763, "t": "Mean SWH vs Latitude"}, {"lat": -66.45, "all": 2.8, "t": "3.5"}, {"lat": -66.03, "all": 2.01, "t": "1.5"}]},
          "mark": {"type": "text", "font": "Lato", "fontSize": 44, "color": "#000000", "align": "center", "baseline": "alphabetic"},
          "encoding": {
            "x": {"field": "lat", "type": "quantitative", "scale": {"domain": [-50, 50], "range": [1430, 2181], "nice": false, "zero": false}},
            "y": {"field": "all", "type": "quantitative", "scale": {"domain": [1.5, 4.5], "range": [-55.7, -347.3], "nice": false, "zero": false}},
            "text": {"field": "t"},
            "size": {"condition": {"test": "datum.t === 'Mean SWH vs Latitude'", "value": 44}, "value": 38}
          }
        },
        {
          "data": {"values": [{"lat": -59.45, "all": 2.954, "lat2": -53.29, "v2": 3.403}, {"lat": -58.99, "all": 2.182, "lat2": -52.74, "v2": 1.558}]},
          "mark": {"type": "rule", "color": "#000000", "strokeWidth": 6},
          "encoding": {
            "x": {"field": "lat", "type": "quantitative", "scale": {"domain": [-50, 50], "range": [1430, 2181], "nice": false, "zero": false}},
            "y": {"field": "all", "type": "quantitative", "scale": {"domain": [1.5, 4.5], "range": [-55.7, -347.3], "nice": false, "zero": false}},
            "x2": {"field": "lat2"},
            "y2": {"field": "v2"}
          }
        },
        {
          "data": {"values": [{"lat": -53.29, "all": 3.403}]},
          "mark": {"type": "point", "shape": "triangle-up", "filled": true, "size": 450, "opacity": 1, "color": "#000000", "angle": 46.7},
          "encoding": {
            "x": {"field": "lat", "type": "quantitative", "scale": {"domain": [-50, 50], "range": [1430, 2181], "nice": false, "zero": false}},
            "y": {"field": "all", "type": "quantitative", "scale": {"domain": [1.5, 4.5], "range": [-55.7, -347.3], "nice": false, "zero": false}}
          }
        },
        {
          "data": {"values": [{"lat": -52.74, "all": 1.558}]},
          "mark": {"type": "point", "shape": "triangle-up", "filled": true, "size": 450, "opacity": 1, "color": "#000000", "angle": 142.3},
          "encoding": {
            "x": {"field": "lat", "type": "quantitative", "scale": {"domain": [-50, 50], "range": [1430, 2181], "nice": false, "zero": false}},
            "y": {"field": "all", "type": "quantitative", "scale": {"domain": [1.5, 4.5], "range": [-55.7, -347.3], "nice": false, "zero": false}}
          }
        }
      ]
    }
  ],
  "resolve": {"scale": {"x": "independent", "y": "independent"}}
}
